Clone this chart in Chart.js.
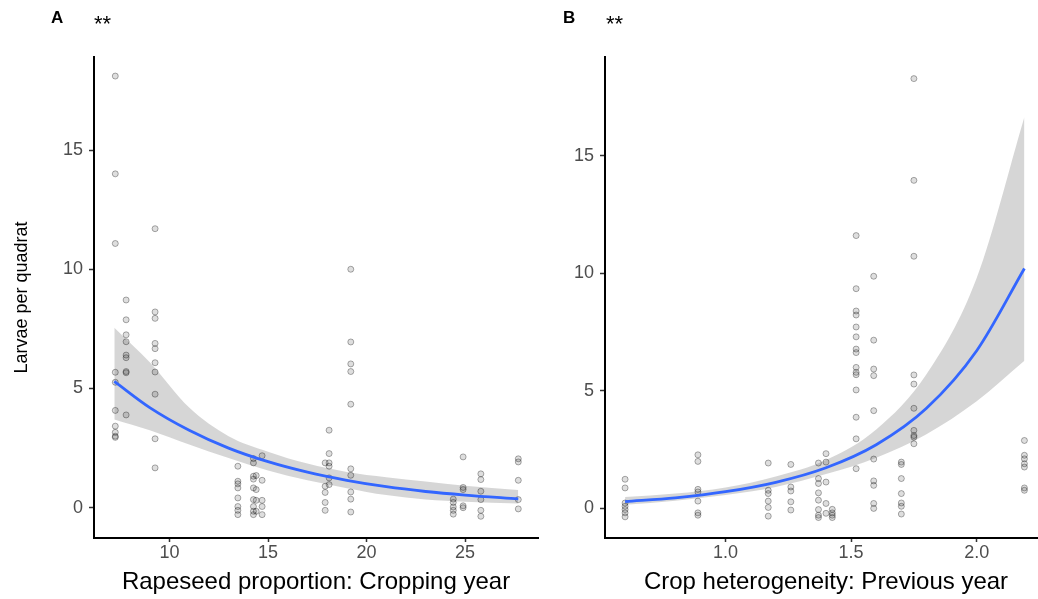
<!DOCTYPE html>
<html>
<head>
<meta charset="utf-8">
<script src="https://cdn.jsdelivr.net/npm/chart.js@4.4.1/dist/chart.umd.min.js"></script>
<style>
  body { margin: 0; background: #fff; width: 1038px; height: 599px; overflow: hidden; position: relative; font-family: "Liberation Sans", Arial, sans-serif; }
  canvas { position: absolute; top: 0; }
  .tag { position: absolute; font-weight: bold; font-size: 17px; color: #000; line-height: 1; }
  .sig { position: absolute; font-size: 22px; color: #000; line-height: 1; }
</style>
</head>
<body>
<canvas id="chart-a" width="560" height="599" style="left:0"></canvas>
<canvas id="chart-b" width="532" height="599" style="left:520px"></canvas>
<div class="tag" style="left:51px;top:9px">A</div>
<div class="sig" style="left:94px;top:13px">**</div>
<div class="tag" style="left:563px;top:9px">B</div>
<div class="sig" style="left:606px;top:13px">**</div>
<script>
// ---- data ----
const yTicks = [0, 5, 10, 15];
const aXTicks = [10, 15, 20, 25];
const bXTicks = [1.0, 1.5, 2.0];

// panel A: rapeseed proportion, points grouped by column
const aCols = [7.25, 7.8, 9.27, 13.47, 14.26, 14.4, 14.7, 17.9, 18.1, 19.2, 24.4, 24.9, 25.8, 27.7];
const aVals = [
  [18.1, 14.0, 11.08, 5.68, 5.26, 4.08, 3.42, 3.16, 2.95, 3.0],
  [8.71, 7.88, 7.25, 6.96, 6.4, 6.29, 5.71, 5.66, 3.89],
  [11.7, 8.21, 7.94, 6.89, 6.67, 6.08, 5.69, 4.76, 2.89, 1.67],
  [1.74, 1.11, 1.0, 0.83, 0.41, 0.05, -0.11, -0.29],
  [2.06, 1.88, 1.32, 1.2, 0.83, 0.34, 0.05, -0.15, -0.29],
  [1.35, 0.76, 0.31, -0.15],
  [2.18, 1.15, 0.31, 0.05, -0.29],
  [1.88, 0.9, 0.64, 0.22, -0.11],
  [3.25, 2.27, 1.88, 1.74, 1.25, 0.97],
  [10.0, 6.95, 6.03, 5.71, 4.34, 1.63, 1.36, 0.66, 0.36, -0.18],
  [0.36, 0.22, 0.03, -0.11, -0.27],
  [2.13, 0.85, 0.76, 0.08, 0.0],
  [1.42, 1.18, 0.69, 0.34, -0.11, -0.36],
  [2.05, 1.92, 1.15, 0.34, -0.05]
];
const aFitX = [7.2, 9, 11, 13, 15, 17, 19, 21, 23, 25, 27.7];
const aFit  = [5.3, 4.2, 3.25, 2.5, 1.93, 1.49, 1.15, 0.88, 0.68, 0.53, 0.37];
const aLo   = [3.7, 3.25, 2.65, 2.08, 1.56, 1.15, 0.82, 0.53, 0.34, 0.25, 0.18];
const aHi   = [7.55, 6.1, 4.2, 3.0, 2.35, 1.85, 1.5, 1.28, 1.1, 0.92, 0.74];

// panel B: crop heterogeneity
const bCols = [0.6, 0.89, 1.17, 1.26, 1.37, 1.4, 1.425, 1.52, 1.59, 1.7, 1.75, 2.19];
const bVals = [
  [1.23, 0.86, 0.22, 0.08, -0.06, -0.2, -0.37],
  [2.27, 1.99, 0.8, 0.69, 0.3, -0.2, -0.3],
  [1.92, 0.76, 0.62, 0.3, 0.03, -0.34],
  [1.86, 0.9, 0.73, 0.27, -0.08],
  [1.92, 1.26, 1.05, 0.65, 0.34, -0.06, -0.3, -0.4],
  [2.32, 1.96, 1.11, 0.2, -0.22],
  [-0.05, -0.2, -0.3, -0.4],
  [11.6, 9.34, 8.39, 8.22, 7.71, 7.29, 6.77, 6.62, 5.99, 5.78, 5.68, 5.03, 3.87, 2.95, 1.68],
  [9.87, 7.15, 5.92, 5.64, 4.15, 2.09, 1.16, 0.97, 0.2, -0.01],
  [1.96, 1.86, 1.26, 0.62, 0.22, 0.08, -0.25],
  [18.28, 13.95, 10.72, 5.67, 5.28, 4.25, 3.31, 3.09, 3.02, 2.74],
  [2.88, 2.25, 2.1, 1.89, 1.75, 0.86, 0.76]
];
const bFitX = [0.6, 0.8, 1.0, 1.2, 1.4, 1.6, 1.8, 2.0, 2.19];
const bFit  = [0.28, 0.44, 0.7, 1.1, 1.72, 2.7, 4.25, 6.7, 10.2];
const bLo   = [0.14, 0.32, 0.56, 0.9, 1.45, 2.15, 3.15, 4.55, 6.27];
const bHi   = [0.47, 0.62, 0.88, 1.35, 2.05, 3.35, 5.7, 9.8, 16.65];

// ---- helpers ----
const FONT = '"Liberation Sans", Arial, sans-serif';
const zip = (xs, ys) => xs.map((x, i) => ({ x: x, y: ys[i] }));
const flatten = (cols, vals) => {
  const out = [];
  cols.forEach((x, i) => vals[i].forEach(v => out.push({ x: x, y: v })));
  return out;
};

function buildPanel(canvas, cfg) {
  const lineDefaults = { type: 'line', pointRadius: 0, cubicInterpolationMode: 'monotone' };
  return new Chart(canvas, {
    type: 'scatter',
    data: {
      datasets: [
        Object.assign({}, lineDefaults, { data: zip(cfg.fitX, cfg.lo), borderWidth: 0, fill: false, order: 3 }),
        Object.assign({}, lineDefaults, { data: zip(cfg.fitX, cfg.hi), borderWidth: 0, fill: '-1',
          backgroundColor: 'rgba(153,153,153,0.4)', order: 3 }),
        { data: flatten(cfg.cols, cfg.vals), pointRadius: 3, pointBorderWidth: 1,
          pointBackgroundColor: 'rgba(0,0,0,0.13)', pointBorderColor: 'rgba(0,0,0,0.32)', order: 1 },
        Object.assign({}, lineDefaults, { data: zip(cfg.fitX, cfg.fit), borderColor: '#3366FF',
          borderWidth: 2.8, fill: false, order: 0 })
      ]
    },
    options: {
      responsive: false,
      animation: false,
      events: [],
      layout: { padding: { top: 57, right: cfg.padRight, left: 0, bottom: 0 } },
      plugins: { legend: { display: false }, tooltip: { enabled: false } },
      scales: {
        x: {
          type: 'linear',
          min: cfg.xMin, max: cfg.xMax,
          afterBuildTicks: s => { s.ticks = cfg.xTicks.map(v => ({ value: v })); },
          afterFit: s => { s.height = 61; },
          border: { display: true, color: '#000', width: 2 },
          grid: { drawOnChartArea: false, drawTicks: true, tickLength: 4, tickColor: '#333', tickWidth: 1.5 },
          ticks: { color: '#4d4d4d', padding: 0, font: { family: FONT, size: 18 },
            callback: v => cfg.xFmt(v) },
          title: { display: true, text: cfg.xTitle, color: '#000', padding: { top: 0, bottom: 2 },
            font: { family: FONT, size: 24 } }
        },
        y: {
          type: 'linear',
          min: -1.27, max: cfg.yMax,
          afterBuildTicks: s => { s.ticks = yTicks.map(v => ({ value: v })); },
          afterFit: s => { s.width = cfg.yWidth; },
          border: { display: true, color: '#000', width: 2 },
          grid: { drawOnChartArea: false, drawTicks: true, tickLength: 5, tickColor: '#333', tickWidth: 1.5 },
          ticks: { color: '#4d4d4d', padding: 6, font: { family: FONT, size: 18 } },
          title: { display: cfg.yTitle !== '', text: cfg.yTitle, color: '#000', padding: { top: 11, bottom: 0 },
            font: { family: FONT, size: 18 } }
        }
      }
    }
  });
}

buildPanel(document.getElementById('chart-a'), {
  cols: aCols, vals: aVals, fitX: aFitX, fit: aFit, lo: aLo, hi: aHi,
  xMin: 6.17, xMax: 28.7, yMax: 18.9, xTicks: aXTicks, xFmt: v => String(v),
  xTitle: 'Rapeseed proportion: Cropping year', yTitle: 'Larvae per quadrat',
  yWidth: 94, padRight: 22
});

// panel B plot runs a little past the right edge of the window, as in the reference
buildPanel(document.getElementById('chart-b'), {
  cols: bCols, vals: bVals, fitX: bFitX, fit: bFit, lo: bLo, hi: bHi,
  xMin: 0.52, xMax: 2.28, yMax: 19.2, xTicks: bXTicks, xFmt: v => v.toFixed(1),
  xTitle: 'Crop heterogeneity: Previous year', yTitle: '',
  yWidth: 85, padRight: 0
});
</script>
</body>
</html>
